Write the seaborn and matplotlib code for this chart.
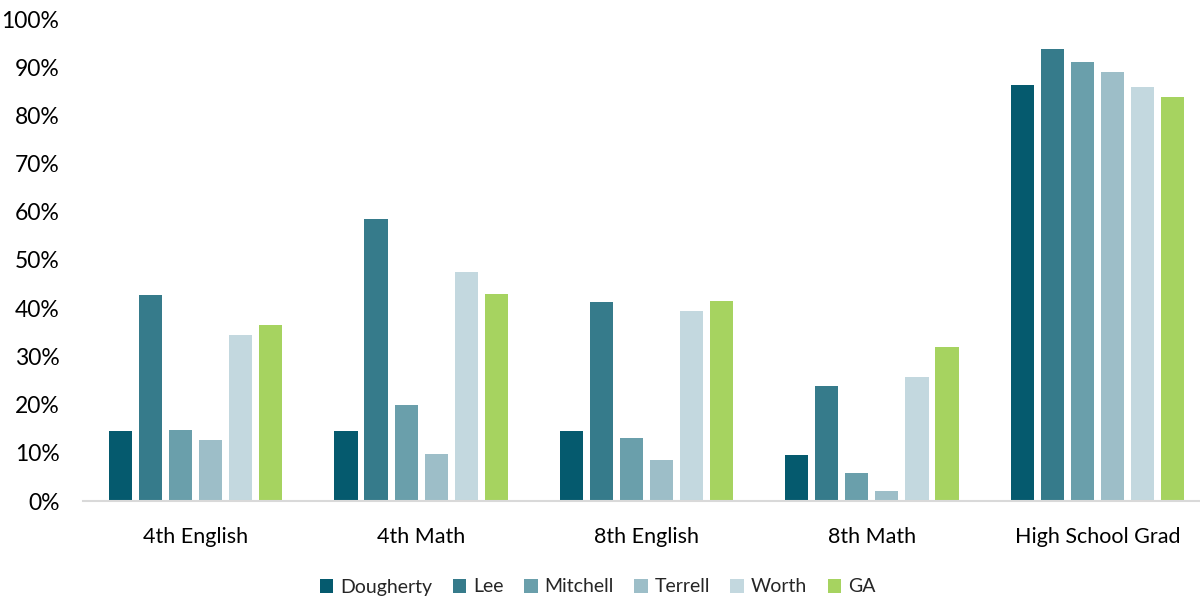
import matplotlib
matplotlib.use("Agg")
import matplotlib.pyplot as plt
import seaborn as sns
import pandas as pd
from matplotlib.ticker import PercentFormatter

categories = ["4th English", "4th Math", "8th English", "8th Math", "High School Grad"]
series_names = ["Dougherty", "Lee", "Mitchell", "Terrell", "Worth", "GA"]
dougherty = [14.5, 14.5, 14.5, 9.5, 86.3]
lee = [42.7, 58.5, 41.3, 23.9, 93.8]
mitchell = [14.7, 19.9, 13.1, 5.8, 91.1]
terrell = [12.7, 9.8, 8.5, 2.1, 89.0]
worth = [34.4, 47.5, 39.4, 25.7, 85.9]
ga = [36.5, 42.9, 41.5, 32.0, 83.8]
colors = ["#055a6e", "#367b8b", "#6a9fab", "#9dbec8", "#c3d8df", "#a6d360"]

values = [dougherty, lee, mitchell, terrell, worth, ga]
rows = []
for name, vals in zip(series_names, values):
    for cat, v in zip(categories, vals):
        rows.append({"Category": cat, "County": name, "Value": v / 100.0})
df = pd.DataFrame(rows)

sns.set_theme(style="white")
plt.rcParams["font.family"] = ["Lato", "DejaVu Sans"]

fig = plt.figure(figsize=(12, 6.01), dpi=100)
ax = fig.add_axes([83 / 1200, 100 / 601, (1200 - 83) / 1200, 482 / 601])

sns.barplot(data=df, x="Category", y="Value", hue="County", order=categories,
            hue_order=series_names, palette=colors, width=0.8, gap=0.23,
            linewidth=0, saturation=1, ax=ax, legend=True)

ax.set_ylim(0, 1)
ax.set_xlim(-0.5, 4.5 - 10 / 225.5)
ax.set_yticks([i / 10 for i in range(11)])
ax.yaxis.set_major_formatter(PercentFormatter(1.0, decimals=0))
ax.set_xlabel("")
ax.set_ylabel("")
for s in ["top", "right", "left"]:
    ax.spines[s].set_visible(False)
ax.spines["bottom"].set_color("#d9d9d9")
ax.spines["bottom"].set_linewidth(1.5)
ax.tick_params(axis="both", length=0, colors="#000000")
ax.tick_params(axis="y", pad=17, labelsize=16.5)
ax.tick_params(axis="x", pad=19, labelsize=15.5)
ax.grid(False)

handles, labels = ax.get_legend_handles_labels()
ax.legend_.remove()
fig.legend(handles, labels, loc="center", bbox_to_anchor=(0.498, 1 - 587 / 601),
           ncol=6, frameon=False, fontsize=14, handlelength=0.7, handleheight=0.7,
           handletextpad=0.35, columnspacing=1.05)

fig.savefig("out.png", dpi=100)
